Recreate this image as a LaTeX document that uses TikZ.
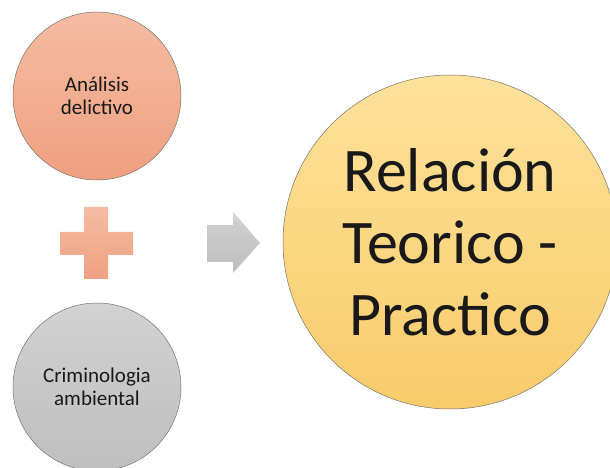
\documentclass[tikz,border=0pt]{standalone}
\usepackage{fontspec}
\setmainfont{Carlito}
\usepackage{xcolor}

\definecolor{salmonTop}{RGB}{245,188,162}
\definecolor{salmonBot}{RGB}{239,160,128}
\definecolor{greyTop}{RGB}{210,210,210}
\definecolor{greyBot}{RGB}{190,190,190}
\definecolor{goldTop}{RGB}{253,226,155}
\definecolor{goldBot}{RGB}{249,203,106}
\definecolor{rimGrey}{RGB}{120,115,110}

\begin{document}
\begin{tikzpicture}[x=1pt,y=1pt,
	ball/.style={circle, draw=rimGrey, line width=0.5pt, inner sep=0pt, align=center,
		text=black!90, shading=axis, top color=#1Top, bottom color=#1Bot},
	smalltxt/.style={font=\fontsize{21}{23}\selectfont},
	bigtxt/.style={font=\fontsize{62}{72}\selectfont}]
	\useasboundingbox (0,0) rectangle (610,468);
	\node[ball=salmon, minimum size=168pt, smalltxt] (analisis) at (97,372) {Análisis\\delictivo};
	\node[ball=grey, minimum size=168pt, smalltxt] (crimino) at (97,81) {Criminologia\\ambiental};
	\node[ball=gold, minimum size=334pt, bigtxt] (relacion) at (450,226) {Relación\\Teorico -\\Practico};
	% plus sign
	\shade[top color=salmonTop, bottom color=salmonBot]
		(84,189) -- (108,189) -- (108,213) -- (133,213) -- (133,236) -- (108,236)
		-- (108,261) -- (84,261) -- (84,236) -- (60,236) -- (60,213) -- (84,213) -- cycle;
	% block arrow
	\shade[top color=greyTop, bottom color=greyBot]
		(207,206) -- (233,206) -- (233,195) -- (260,225) -- (233,256) -- (233,243)
		-- (207,243) -- cycle;
\end{tikzpicture}
\end{document}
